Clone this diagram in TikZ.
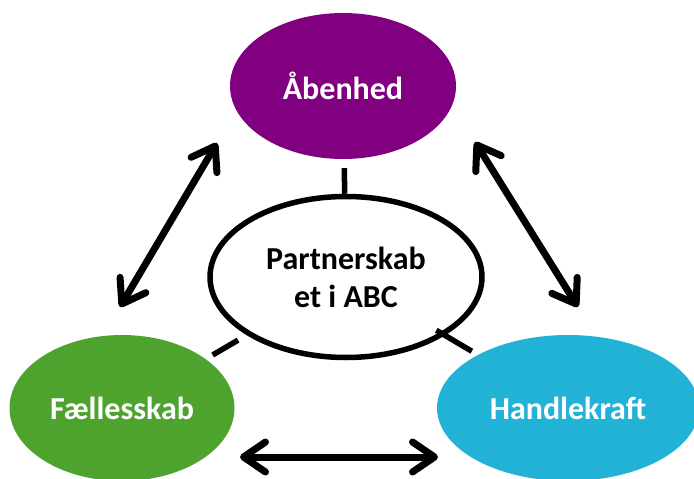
\documentclass[tikz,border=0pt]{standalone}
\usepackage{fontspec}
\setmainfont{Carlito}
\usepackage{tikz}
\usetikzlibrary{
    positioning,
    arrows.meta,
    shapes.geometric
}
\definecolor{ringPurple}{RGB}{128, 0, 128}
\definecolor{ringGreen}{RGB}{78, 163, 46}
\definecolor{ringBlue}{RGB}{33, 178, 214}

\begin{document}
\begin{tikzpicture}[x=1pt, y=-1pt,
        blob/.style={ellipse, inner sep=0pt, minimum height=146pt, text=white,
            font=\bfseries\fontsize{32}{38}\selectfont},
        barb/.style={line width=7pt,
            {Straight Barb[length=22pt, width=30pt, round]}-{Straight Barb[length=22pt, width=30pt, round]}},
        stub/.style={line width=5.5pt}]
            \useasboundingbox (0,0) rectangle (694,479);
            % the three values
            \node[blob, fill=ringPurple, minimum width=226pt] (aab) at (343,86) {Åbenhed};
            \node[blob, fill=ringGreen, minimum width=225pt] (fael) at (122,408) {Fællesskab};
            \node[blob, fill=ringBlue, minimum width=262pt] (hand) at (568,408) {Handlekraft};
            % the hub in the middle
            \node[ellipse, draw, line width=5.5pt, inner sep=0pt, minimum width=272pt, minimum height=161pt,
                align=center, font=\bfseries\fontsize{32}{38}\selectfont] (hub) at (346,277) {Partnerskab\\et i ABC};
            \draw[stub, shorten <=9pt] (aab) -- (hub);
            \draw[stub, shorten <=8pt, shorten >=10pt] (fael) -- (hub);
            \draw[stub, shorten <=7pt, shorten >=-10pt] (hand) -- (hub);
            % arrows between the values
            \coordinate (lTop) at (217,143);
            \coordinate (lBot) at (120,307);
            \coordinate (rTop) at (475,142);
            \coordinate (rBot) at (578,307);
            \coordinate (bLeft) at (240,457);
            \coordinate (bRight) at (438,457);
            \draw[barb] (lBot)--(lTop);
            \draw[barb] (rTop)--(rBot);
            \draw[barb] (bLeft)--(bRight);
        \end{tikzpicture}
\end{document}
